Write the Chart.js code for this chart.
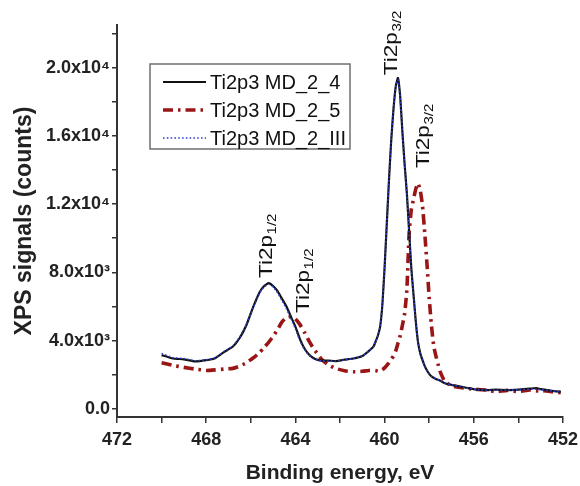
<!DOCTYPE html>
<html>
<head>
<meta charset="utf-8">
<script src="https://cdn.jsdelivr.net/npm/chart.js@4.4.1/dist/chart.umd.min.js"></script>
<style>
  html, body { margin: 0; padding: 0; background: #fff; }
  #wrap { width: 580px; height: 486px; }
</style>
</head>
<body>
<div id="wrap"><canvas id="xps" width="580" height="486"></canvas></div>
<script>
// binding energy (eV)
const energies = [
  470, 469.5, 469, 468.5, 468, 467.6, 467.2, 466.8, 466.5, 466.2,
  465.9, 465.6, 465.4, 465.2, 465.0, 464.8, 464.6, 464.4, 464.2, 464.0,
  463.8, 463.6, 463.4, 463.2, 463.0, 462.8, 462.5, 462.2, 461.8, 461.4,
  461.0, 460.7, 460.5, 460.4, 460.3, 460.2, 460.1, 460.0, 459.9, 459.8,
  459.7, 459.6, 459.5, 459.4, 459.3, 459.2, 459.1, 459.0, 458.9, 458.8,
  458.7, 458.6, 458.5, 458.4, 458.3, 458.2, 458.1, 458.0, 457.9, 457.8,
  457.7, 457.6, 457.5, 457.3, 457.0, 456.6, 456.2, 455.8, 455.4, 455.0,
  454.5, 454.0, 453.5, 453.2, 453.0, 452.5, 452.1
];

const md24 = [
  3150, 2950, 2900, 2780, 2850, 2970, 3330, 3650, 4150, 4900,
  5950, 6850, 7200, 7370, 7200, 6900, 6450, 6000, 5400, 4820,
  4100, 3550, 3200, 2980, 2870, 2830, 2830, 2800, 2880, 2950,
  3100, 3400, 3650, 3950, 4300, 4820, 6100, 8300, 10900, 13500,
  15800, 17600, 18900, 19400, 18300, 16200, 14300, 12600, 10400, 8200,
  6650, 5100, 3900, 3250, 2850, 2500, 2250, 2050, 1900, 1820,
  1750, 1700, 1640, 1500, 1400, 1300, 1200, 1120, 1100, 1120,
  1100, 1130, 1180, 1220, 1150, 1050, 1000
];

const md25 = [
  2700, 2550, 2430, 2330, 2250, 2280, 2330, 2370, 2500, 2700,
  2980, 3300, 3600, 3900, 4250, 4650, 5100, 5350, 5400, 5270,
  4950, 4500, 4000, 3560, 3200, 2870, 2560, 2370, 2230, 2170,
  2200, 2250, 2260, 2240, 2190, 2230, 2300, 2400, 2550, 2700,
  2900, 3100, 3400, 3850, 4300, 4900, 5600, 7000, 10300, 11700,
  12300, 12900, 13220, 12800, 11900, 10300, 8500, 6500, 4900, 3700,
  3100, 2600, 2150, 1600, 1350, 1250, 1180, 1130, 1100, 1000,
  1080, 1000, 1100, 1050, 1080, 1000, 950
];

const md2III = [
  3250, 3000, 2950, 2820, 2870, 3000, 3350, 3700, 4200, 4950,
  5900, 6800, 7150, 7300, 7150, 6800, 6350, 5850, 5300, 4700,
  4000, 3500, 3150, 2950, 2850, 2800, 2800, 2800, 2870, 2950,
  3100, 3400, 3650, 3950, 4300, 4850, 6150, 8350, 10950, 13550,
  15850, 17600, 18850, 19300, 18250, 16150, 14250, 12550, 10350, 8150,
  6600, 5050, 3900, 3250, 2850, 2500, 2250, 2050, 1900, 1820,
  1750, 1700, 1640, 1500, 1400, 1300, 1200, 1120, 1100, 1100,
  1100, 1120, 1150, 1150, 1120, 1050, 1000
];

const seriesNames = ['Ti2p3 MD_2_4', 'Ti2p3 MD_2_5', 'Ti2p3 MD_2_III'];

const xTickLabels = [472, 468, 464, 460, 456, 452];
const yTickMarks = [0, 2000, 4000, 6000, 8000, 10000, 12000, 14000, 16000, 18000, 20000, 22000];
const yTickValues = [0, 4000, 8000, 12000, 16000, 20000];
const yTickLabels = ['0.0', '4.0x10\u00B3', '8.0x10\u00B3', '1.2x10\u2074', '1.6x10\u2074', '2.0x10\u2074'];

// peak labels: energy / counts where each rotated label starts
const peakNames = ['Ti2p', 'Ti2p', 'Ti2p', 'Ti2p'];
const peakSubs = ['1/2', '1/2', '3/2', '3/2'];
const peakE = [465.05, 463.4, 459.44, 458.0];
const peakV = [7670, 5620, 19560, 14110];

const toXY = vals => energies.map((e, i) => ({ x: e, y: vals[i] }));

const FONT = '"Liberation Sans", Arial, sans-serif';

const extras = {
  id: 'extras',
  afterDatasetsDraw(chart) {
    const ctx = chart.ctx;
    const sx = chart.scales.x, sy = chart.scales.y;

    // rotated peak labels
    ctx.save();
    ctx.fillStyle = '#111';
    ctx.textBaseline = 'alphabetic';
    peakNames.forEach((name, i) => {
      const px = sx.getPixelForValue(peakE[i]);
      const py = sy.getPixelForValue(peakV[i]);
      ctx.save();
      ctx.translate(px, py);
      ctx.rotate(-Math.PI / 2);
      ctx.scale(1.25, 1);
      ctx.font = '18px ' + FONT;
      ctx.fillText(name, 0, 0);
      const w = ctx.measureText(name).width;
      ctx.font = '12px ' + FONT;
      ctx.fillText(peakSubs[i], w + 0.5, 4);
      ctx.restore();
    });
    ctx.restore();

    // legend box
    const box = { l: 150, t: 64, w: 200, h: 85 };
    ctx.save();
    ctx.fillStyle = '#fff';
    ctx.fillRect(box.l, box.t, box.w, box.h);
    ctx.strokeStyle = '#6f6f6f';
    ctx.lineWidth = 1.5;
    ctx.strokeRect(box.l, box.t, box.w, box.h);
    chart.data.datasets.forEach((ds, i) => {
      const y = box.t + 18 + i * 28;
      ctx.beginPath();
      ctx.strokeStyle = ds.borderColor;
      ctx.lineWidth = ds.borderWidth;
      ctx.setLineDash(ds.borderDash || []);
      ctx.moveTo(box.l + 13, y);
      ctx.lineTo(box.l + 56, y);
      ctx.stroke();
      ctx.setLineDash([]);
      ctx.fillStyle = '#111';
      ctx.font = '20px ' + FONT;
      ctx.textBaseline = 'middle';
      ctx.fillText(ds.label, box.l + 60, y + 1);
    });
    ctx.restore();
  }
};

new Chart(document.getElementById('xps'), {
  type: 'line',
  data: {
    datasets: [
      {
        label: seriesNames[0],
        data: toXY(md24),
        borderColor: '#111111',
        borderWidth: 2.2,
        order: 1
      },
      {
        label: seriesNames[1],
        data: toXY(md25),
        borderColor: '#9a1616',
        borderWidth: 3.6,
        borderDash: [10, 5, 2.5, 5],
        order: 2
      },
      {
        label: seriesNames[2],
        data: toXY(md2III),
        borderColor: '#2f3fd8',
        borderWidth: 1.6,
        borderDash: [1.6, 2.2],
        order: 0
      }
    ]
  },
  options: {
    responsive: false,
    animation: false,
    parsing: false,
    elements: {
      point: { radius: 0 },
      line: { tension: 0.15, fill: false }
    },
    layout: { padding: { top: 25, right: 17, bottom: 0, left: 0 } },
    plugins: {
      legend: { display: false },
      tooltip: { enabled: false }
    },
    scales: {
      x: {
        type: 'linear',
        reverse: true,
        min: 452,
        max: 472,
        afterFit: s => { s.height = 69; s.paddingLeft = 0; s.paddingRight = 0; },
        border: { display: true, color: '#333', width: 2 },
        grid: { drawOnChartArea: false, drawTicks: true, tickLength: 6, color: '#333', lineWidth: 1.5 },
        ticks: {
          stepSize: 2,
          autoSkip: false,
          maxRotation: 0,
          padding: 6,
          color: '#222',
          font: { family: FONT, size: 18, weight: 'bold' },
          callback: v => xTickLabels.includes(v) ? String(v) : ''
        },
        title: {
          display: true,
          text: 'Binding energy, eV',
          color: '#222',
          font: { family: FONT, size: 21, weight: 'bold' },
          padding: { top: 0, bottom: 0 }
        }
      },
      y: {
        min: -480,
        max: 22500,
        afterFit: s => { s.width = 117; s.paddingTop = 0; s.paddingBottom = 0; },
        afterBuildTicks: s => { s.ticks = yTickMarks.map(v => ({ value: v })); },
        border: { display: true, color: '#333', width: 2 },
        grid: { drawOnChartArea: false, drawTicks: true, tickLength: 5, color: '#333', lineWidth: 1.5 },
        ticks: {
          autoSkip: false,
          padding: 2,
          color: '#222',
          font: { family: FONT, size: 18, weight: 'bold' },
          callback: v => {
            const k = yTickValues.indexOf(v);
            return k >= 0 ? yTickLabels[k] : '';
          }
        },
        title: {
          display: true,
          text: 'XPS signals (counts)',
          color: '#222',
          font: { family: FONT, size: 23, weight: 'bold' },
          padding: { top: 11, bottom: 0 }
        }
      }
    }
  },
  plugins: [extras]
});
</script>
</body>
</html>
